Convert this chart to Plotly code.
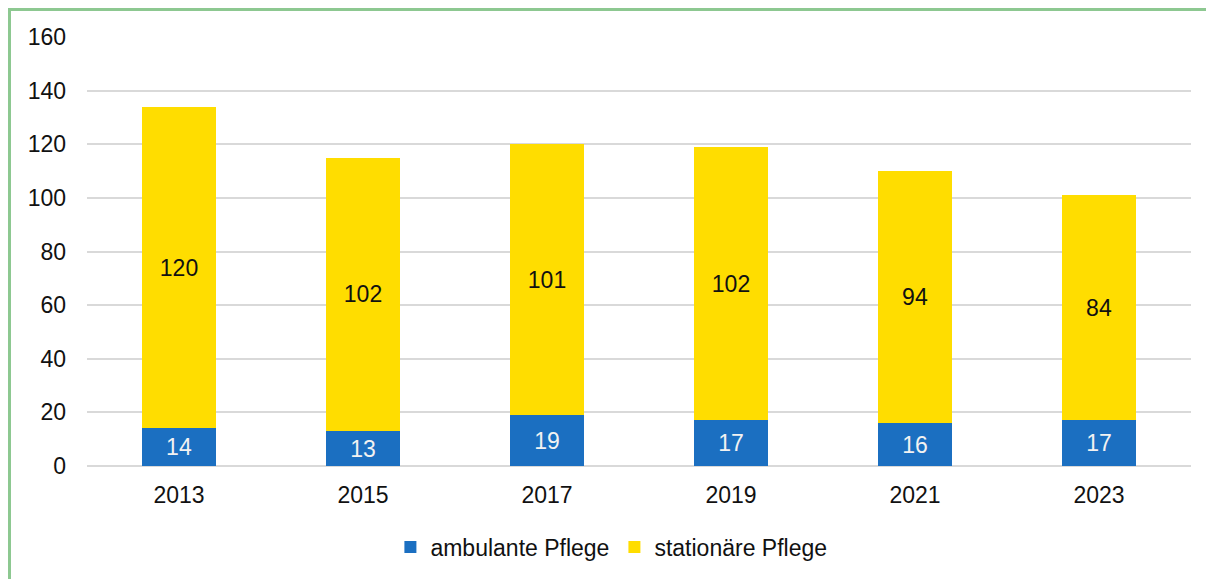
import plotly.graph_objects as go

years = ["2013", "2015", "2017", "2019", "2021", "2023"]
ambulant = [14, 13, 19, 17, 16, 17]
stationaer = [120, 102, 101, 102, 94, 84]
y_ticks = [0, 20, 40, 60, 80, 100, 120, 140, 160]

font = "Liberation Sans, Arial, sans-serif"

fig = go.Figure()

fig.add_trace(
    go.Bar(
        x=years,
        y=ambulant,
        name="ambulante Pflege",
        marker={"color": "#1B6FC1", "line": {"width": 0}},
        text=ambulant,
        textposition="inside",
        insidetextanchor="middle",
        textangle=0,
        constraintext="none",
        textfont={"color": "#F2F2F2", "size": 23, "family": font},
    )
)
fig.add_trace(
    go.Bar(
        x=years,
        y=stationaer,
        name="stationäre Pflege",
        marker={"color": "#FFDD00", "line": {"width": 0}},
        text=stationaer,
        textposition="inside",
        insidetextanchor="middle",
        textangle=0,
        constraintext="none",
        textfont={"color": "#111111", "size": 23, "family": font},
    )
)

# page body has an 8px margin, so the figure is a bit smaller than the window
fig.update_layout(
    barmode="stack",
    bargap=0.6,
    width=1206,
    height=571,
    margin={"l": 79, "r": 23, "t": 29, "b": 112},
    font={"family": font, "size": 23, "color": "#111111"},
    plot_bgcolor="white",
    paper_bgcolor="white",
    showlegend=True,
    legend={
        "orientation": "h",
        "x": 0.475,
        "xanchor": "center",
        "y": -0.186,
        "yanchor": "middle",
        "font": {"size": 23},
        "itemwidth": 30,
        "traceorder": "normal",
    },
    xaxis={"showgrid": False, "showline": False, "ticks": "", "ticklabelstandoff": 13},
    yaxis={
        "range": [0, 160],
        "tickvals": y_ticks,
        "showgrid": True,
        "gridcolor": "#D9D9D9",
        "gridwidth": 2,
        "zeroline": True,
        "zerolinecolor": "#D9D9D9",
        "zerolinewidth": 2,
        "ticks": "",
        "ticklabelstandoff": 20,
    },
    shapes=[
        {
            "type": "rect",
            "xref": "paper",
            "yref": "paper",
            "x0": -0.07065,
            "x1": 1.2,
            "y0": -0.6,
            "y1": 1.0651,
            "line": {"color": "#8DC891", "width": 4},
            "layer": "below",
        }
    ],
)

fig.write_html("out.html")
